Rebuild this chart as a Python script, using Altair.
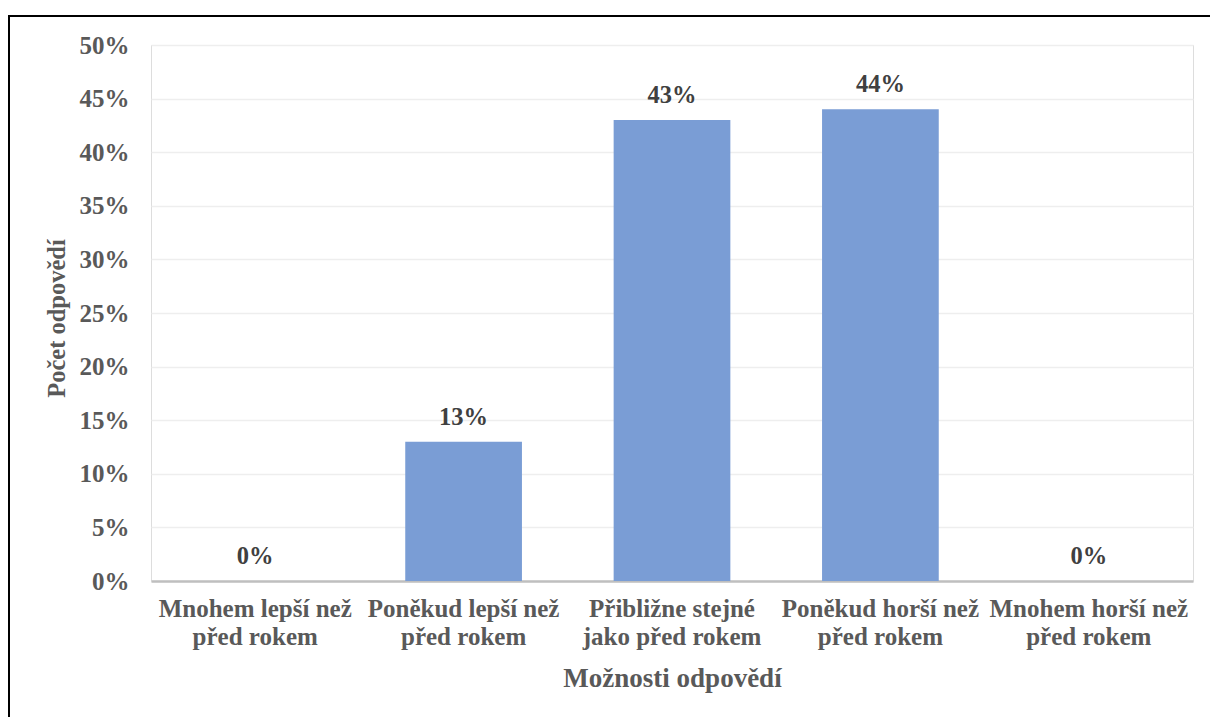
import altair as alt
import pandas as pd

categories = [
    "Mnohem lepší než\npřed rokem",
    "Poněkud lepší než\npřed rokem",
    "Přibližne stejné\njako před rokem",
    "Poněkud horší než\npřed rokem",
    "Mnohem horší než\npřed rokem",
]
values = [0.0, 0.13, 0.43, 0.44, 0.0]
y_ticks = [0, 0.05, 0.10, 0.15, 0.20, 0.25, 0.30, 0.35, 0.40, 0.45, 0.50]

df = pd.DataFrame({"cat": categories, "val": values})

FONT = "Liberation Serif"
AXIS_COLOR = "#595959"

x_enc = alt.X(
    "cat:N",
    sort=categories,
    scale=alt.Scale(paddingInner=0.44, paddingOuter=0.22),
    axis=alt.Axis(
        title="Možnosti odpovědí",
        labelExpr="split(datum.label, '\\n')",
        labelAngle=0,
        labelFont=FONT,
        labelFontSize=25,
        labelFontWeight="bold",
        labelColor=AXIS_COLOR,
        labelPadding=15,
        labelLineHeight=28,
        labelLimit=300,
        ticks=False,
        domainColor="#bfbfbf",
        domainWidth=2.5,
        titleFont=FONT,
        titleFontSize=27,
        titleFontWeight="bold",
        titleColor=AXIS_COLOR,
        titleY=97,
        titleBaseline="middle",
        grid=False,
    ),
)

y_enc = alt.Y(
    "val:Q",
    scale=alt.Scale(domain=[0, 0.5]),
    axis=alt.Axis(
        title="Počet odpovědí",
        values=y_ticks,
        format=".0%",
        labelFont=FONT,
        labelFontSize=25,
        labelFontWeight="bold",
        labelColor=AXIS_COLOR,
        labelPadding=22,
        ticks=False,
        domain=False,
        gridColor="#eeeeee",
        gridWidth=1.5,
        titleFont=FONT,
        titleFontSize=24.5,
        titleFontWeight="bold",
        titleColor=AXIS_COLOR,
        titleX=-94,
        titleY=273,
        titleAngle=-90,
        titleBaseline="middle",
    ),
)

bars = alt.Chart(df).mark_bar(color="#7a9dd5").encode(x=x_enc, y=y_enc)

labels = alt.Chart(df).mark_text(
    font=FONT, fontSize=24.5, fontWeight="bold", color="#404040",
    baseline="bottom", dy=-12,
).encode(
    x=alt.X("cat:N", sort=categories),
    y=alt.Y("val:Q"),
    text=alt.Text("val:Q", format=".0%"),
)

frame = alt.Data(values=[{}])
left_border = alt.Chart(frame).mark_rule(color="#000000", strokeWidth=2).encode(
    x=alt.value(-142), y=alt.value(-30), y2=alt.value(700)
)
top_border = alt.Chart(frame).mark_rule(color="#000000", strokeWidth=2).encode(
    x=alt.value(-143), x2=alt.value(1100), y=alt.value(-29)
)

chart = alt.layer(bars, labels, left_border, top_border).properties(
    width=1042,
    height=536,
    autosize=alt.AutoSizeParams(type="none"),
    padding={"left": 151, "top": 45, "right": 17, "bottom": 136},
).configure_view(stroke=None).configure(background="white")

chart.save("out.html", embed_options={"renderer": "svg", "actions": False})
